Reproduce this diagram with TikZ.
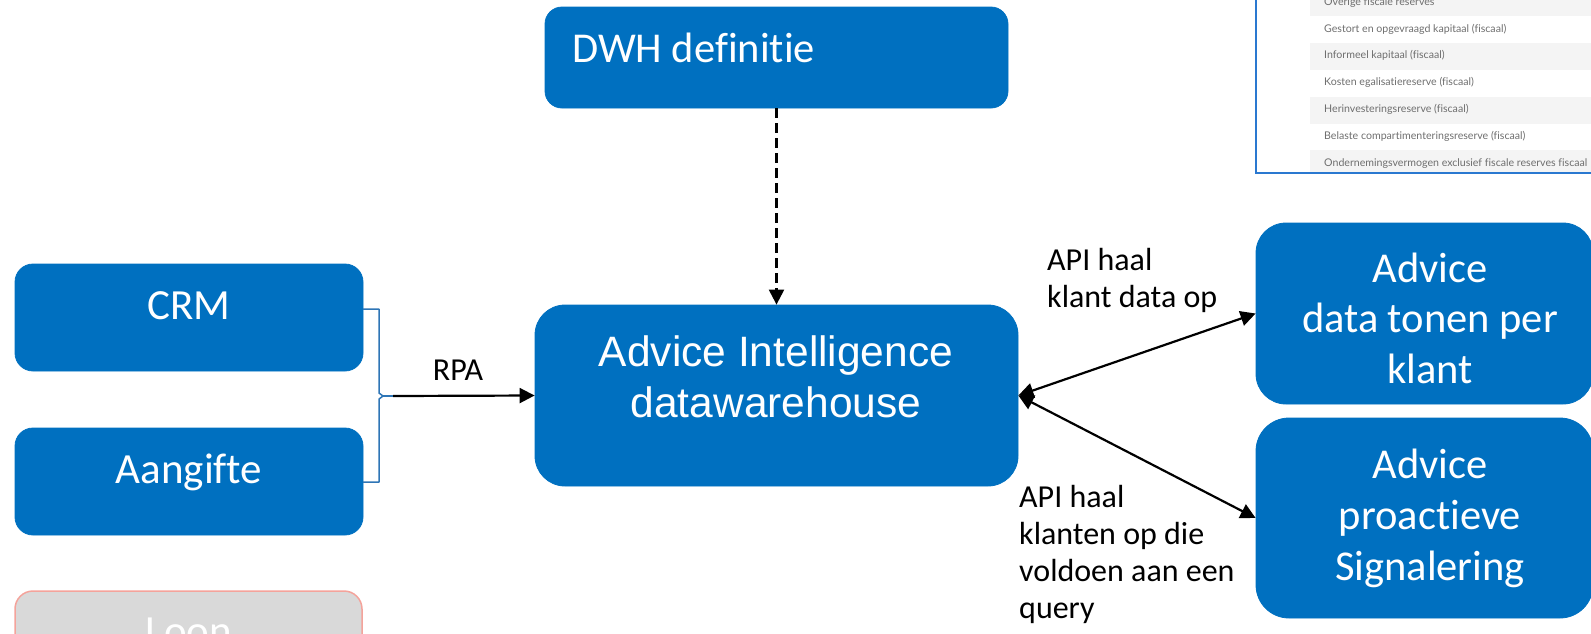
\documentclass[tikz,border=0pt]{standalone}
\usepackage{fontspec}
\setmainfont{Carlito}[Ligatures={NoCommon,NoContextual}]
\newfontfamily\arialfont{Liberation Sans}
\newfontfamily\insetfont{Lato}[Ligatures={NoCommon}]
\usetikzlibrary{arrows.meta}
\definecolor{pblue}{HTML}{0070C0}
\definecolor{bracecol}{HTML}{2E75B6}
\definecolor{insetblue}{HTML}{2A78D0}
\definecolor{rowgray}{HTML}{F4F4F4}
\definecolor{rowtext}{HTML}{6E6E6E}
\definecolor{loonfill}{HTML}{D9D9D9}
\definecolor{loonline}{HTML}{F4A39B}
\tikzset{
  box/.style={draw=pblue, line width=0.8pt, fill=pblue, inner sep=0pt},
  boxtxt/.style={text=white, inner sep=0pt, align=center},
  lbl/.style={text=black, inner sep=0pt, align=left, font={\fontsize{32}{37}\selectfont}},
  conn/.style={line width=2.2pt, draw=black},
  tip/.style={-{Triangle[length=15pt,width=15pt]}},
  dtip/.style={{Triangle[length=15pt,width=15pt]}-{Triangle[length=15pt,width=15pt]}},
  rowtxt/.style={text=rowtext, inner sep=0pt, anchor=mid west, font={\insetfont\fontsize{10.6}{13}\selectfont}},
}
\begin{document}
\begin{tikzpicture}[x=1pt,y=-1pt]
\useasboundingbox (0,0) rectangle (1591,633);
\begin{scope}
\clip (0,0) rectangle (1591,633);
% inset screenshot
\foreach \c in {3,56.6,110.2,163.8}{
  \fill[rowgray] (1310,\c-13.4) rectangle (1600,\c+13.4);
}
\node[rowtxt] (r1) at (1324,3) {Overige fiscale reserves};
\node[rowtxt] (r2) at (1324,29.8) {Gestort en opgevraagd kapitaal (fiscaal)};
\node[rowtxt] (r3) at (1324,56.6) {Informeel kapitaal (fiscaal)};
\node[rowtxt] (r4) at (1324,83.4) {Kosten egalisatiereserve (fiscaal)};
\node[rowtxt] (r5) at (1324,110.2) {Herinvesteringsreserve (fiscaal)};
\node[rowtxt] (r6) at (1324,137) {Belaste compartimenteringsreserve (fiscaal)};
\node[rowtxt] (r7) at (1324,163.8) {Ondernemingsvermogen exclusief fiscale reserves fiscaal};
\fill[white] (1256,172) rectangle (1600,640);
\draw[insetblue, line width=2pt] (1256,-5) -- (1256,173) -- (1600,173);

% boxes
\node[box, minimum width=463pt, minimum height=101pt, rounded corners=17pt] (dwh) at (776.5,57.5) {};
\node[box, minimum width=483pt, minimum height=181pt, rounded corners=30pt] (main) at (776.5,395.5) {};
\node[box, minimum width=348pt, minimum height=107pt, rounded corners=18pt] (crm) at (189,317.5) {};
\node[box, minimum width=348pt, minimum height=107pt, rounded corners=18pt] (aang) at (189,481.5) {};
\node[box, draw=loonline, fill=loonfill, line width=1.5pt, minimum width=347pt, minimum height=107pt, rounded corners=18pt] (loon) at (188.5,644.5) {};
\node[box, minimum width=337pt, minimum height=181pt, rounded corners=30pt] (adv1) at (1424.5,313.5) {};
\node[box, minimum width=337pt, minimum height=200pt, rounded corners=33pt] (adv2) at (1424.5,518) {};

% box texts (multi-line nodes: base = last line baseline)
\node[boxtxt, anchor=base west, font={\fontsize{42.5}{50}\selectfont}] (dwhT) at (572,62) {DWH definitie};
\node[boxtxt, anchor=base, font={\fontsize{43}{48}\selectfont}] (crmT) at (189,319) {CRM};
\node[boxtxt, anchor=base, font={\fontsize{43}{48}\selectfont}] (aangT) at (189,483) {Aangifte};
\node[boxtxt, anchor=base, font={\fontsize{43}{48}\selectfont}] (loonT) at (189,645) {Loon};
\node[boxtxt, anchor=base, font={\arialfont\fontsize{42.5}{51}\selectfont}] (mainT) at (776,417) {Advice Intelligence\\datawarehouse};
\node[boxtxt, anchor=base, font={\fontsize{42.5}{50.5}\selectfont}] (adv1T) at (1430,383) {Advice\\data tonen per\\klant};
\node[boxtxt, anchor=base, font={\fontsize{42.5}{51}\selectfont}] (adv2T) at (1430,580) {Advice\\proactieve\\Signalering};
\end{scope}

% brace
\coordinate (bt) at (393,396);
\draw[bracecol, line width=1.5pt, line join=round]
  (363,309) -- (379,309) -- (379,393) -- (383,396) -- (379,399) -- (379,482) -- (363,482);
\draw[bracecol, line width=2pt] (383,396) -- (bt);

% connectors
\draw[conn, tip] (bt) -- (main.west);
\draw[conn, tip, dash pattern=on 10pt off 5pt] (dwh.south) -- (main.north);
\draw[conn, dtip] (main.east) -- (adv1.west);
\draw[conn, dtip] (main.east) -- (adv2.west);

% labels
\node[lbl, anchor=base] (rpa) at (458,380) {RPA};
\node[lbl, anchor=base west] (api1) at (1047,307) {API haal\\klant data op};
\node[lbl, anchor=base west, font={\fontsize{32}{36.7}\selectfont}] (api2) at (1019,618) {API haal\\klanten op die\\voldoen aan een\\query};
\end{tikzpicture}
\end{document}
